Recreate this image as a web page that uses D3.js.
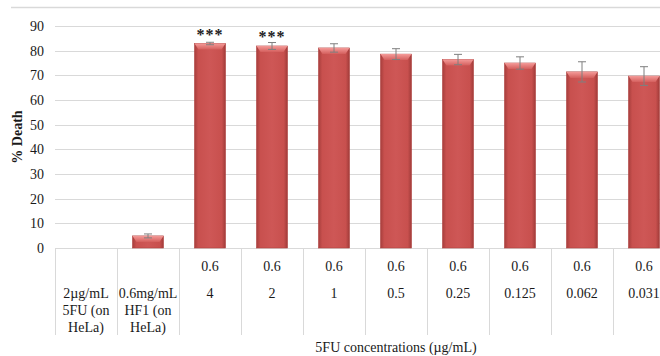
<!DOCTYPE html>
<html>
<head>
<meta charset="utf-8">
<script src="https://cdn.jsdelivr.net/npm/d3@7"></script>
<style>
  html, body { margin: 0; padding: 0; background: #fff; }
  svg { display: block; }
  svg text { font-family: "Liberation Serif", "Times New Roman", Times, "DejaVu Serif", serif !important; }
</style>
</head>
<body>
<svg id="chart" width="660" height="356"></svg>
<script>
// ---- data ----
const categories = ["5FU", "HF1", "4", "2", "1", "0.5", "0.25", "0.125", "0.062", "0.031"];
const row1Labels = ["", "", "0.6", "0.6", "0.6", "0.6", "0.6", "0.6", "0.6", "0.6"];
const row2Labels = [["2µg/mL", "5FU (on", "HeLa)"], ["0.6mg/mL", "HF1 (on", "HeLa)"], ["4"], ["2"], ["1"], ["0.5"], ["0.25"], ["0.125"], ["0.062"], ["0.031"]];
const values = [0, 4.9, 82.9, 81.9, 81.1, 78.6, 76.4, 75.0, 71.4, 69.7];
const errors = [0, 0.8, 0.5, 1.4, 1.7, 2.2, 2.1, 2.5, 4.1, 3.8];
const significance = ["", "", "***", "***", "", "", "", "", "", ""];
const yTicks = [0, 10, 20, 30, 40, 50, 60, 70, 80, 90];

(function () {
// ---- layout ----
const svg = d3.select("#chart");
const pLeft = 55, pRight = 675, pTop = 26, pBottom = 248;
const x = d3.scaleBand().domain(categories).range([pLeft, pRight]).paddingInner(0.5).paddingOuter(0.25);
const xb = d3.scaleBand().domain(categories).range([pLeft, pRight]).padding(0);
const y = d3.scaleLinear().domain([0, 90]).range([pBottom, pTop]);

// gradients
const defs = svg.append("defs");
const g1 = defs.append("linearGradient").attr("id", "barGrad").attr("x1", 0).attr("x2", 1).attr("y1", 0).attr("y2", 0);
g1.append("stop").attr("offset", "0%").attr("stop-color", "#A63E3C");
g1.append("stop").attr("offset", "12%").attr("stop-color", "#C8504E");
g1.append("stop").attr("offset", "50%").attr("stop-color", "#CE5756");
g1.append("stop").attr("offset", "88%").attr("stop-color", "#C8504E");
g1.append("stop").attr("offset", "100%").attr("stop-color", "#A03B39");
const g2 = defs.append("linearGradient").attr("id", "topGrad").attr("x1", 0).attr("x2", 0).attr("y1", 0).attr("y2", 1);
g2.append("stop").attr("offset", "0%").attr("stop-color", "#F49A98");
g2.append("stop").attr("offset", "100%").attr("stop-color", "#D45F5D");

// top border line
svg.append("line").attr("x1", 11).attr("x2", 660).attr("y1", 7.5).attr("y2", 7.5)
  .attr("stroke", "#D9D9D9").attr("stroke-width", 1.5);

// gridlines
svg.append("g").selectAll("line").data(yTicks.filter(d => d > 0)).join("line")
  .attr("x1", pLeft).attr("x2", 660)
  .attr("y1", d => Math.round(y(d)) + 0.5).attr("y2", d => Math.round(y(d)) + 0.5)
  .attr("stroke", "#D9D9D9").attr("stroke-width", 1);

// y axis labels
const yAxis = d3.axisLeft(y).tickValues(yTicks).tickSize(0).tickPadding(11);
const ya = svg.append("g").attr("transform", `translate(${pLeft},0)`).call(yAxis);
ya.select(".domain").remove();
ya.selectAll("text").attr("font-size", 14).attr("fill", "#1a1a1a");

// axis line & table lines
svg.append("line").attr("x1", pLeft).attr("x2", 660).attr("y1", pBottom + 0.5).attr("y2", pBottom + 0.5)
  .attr("stroke", "#D9D9D9");
svg.append("g").selectAll("line").data(categories).join("line")
  .attr("x1", d => Math.round(xb(d)) + 0.5).attr("x2", d => Math.round(xb(d)) + 0.5)
  .attr("y1", pBottom).attr("y2", 335)
  .attr("stroke", "#D9D9D9");

// bars
const bars = svg.append("g");
categories.forEach((c, i) => {
  const v = values[i];
  if (v <= 0) return;
  const bx = x(c), bw = x.bandwidth(), by = y(v), bh = y(0) - y(v);
  bars.append("rect").attr("x", bx).attr("y", by).attr("width", bw).attr("height", bh)
    .attr("fill", "url(#barGrad)").attr("stroke", "#B0403E").attr("stroke-width", 0.6);
  const th = Math.min(6, bh / 2);
  bars.append("path")
    .attr("d", `M${bx},${by} L${bx + bw},${by} L${bx + bw - 4},${by + th} L${bx + 4},${by + th} Z`)
    .attr("fill", "url(#topGrad)");
});

// error bars
const eb = svg.append("g").attr("stroke", "#7F7F7F").attr("stroke-width", 1);
categories.forEach((c, i) => {
  if (values[i] <= 0) return;
  const cx = x(c) + x.bandwidth() / 2;
  const y1 = y(values[i] + errors[i]), y2 = y(values[i] - errors[i]);
  eb.append("line").attr("x1", cx).attr("x2", cx).attr("y1", y1).attr("y2", y2);
  eb.append("line").attr("x1", cx - 4).attr("x2", cx + 4).attr("y1", y1).attr("y2", y1);
  eb.append("line").attr("x1", cx - 4).attr("x2", cx + 4).attr("y1", y2).attr("y2", y2);
});

// significance
svg.append("g").selectAll("text").data(categories).join("text")
  .attr("x", d => x(d) + x.bandwidth() / 2)
  .attr("y", (d, i) => y(values[i]) - 4)
  .attr("text-anchor", "middle").attr("font-size", 16).attr("font-weight", "bold").attr("fill", "#222")
  .attr("letter-spacing", 1)
  .text((d, i) => significance[i]);

// table labels
const lab = svg.append("g").attr("font-size", 14).attr("fill", "#1a1a1a").attr("text-anchor", "middle");
categories.forEach((c, i) => {
  const cx = xb(c) + xb.bandwidth() / 2;
  if (row1Labels[i]) lab.append("text").attr("x", cx).attr("y", 271).text(row1Labels[i]);
  row2Labels[i].forEach((t, k) => {
    lab.append("text").attr("x", cx).attr("y", 298 + k * 17).text(t);
  });
});

// axis titles
svg.append("text").attr("x", 396).attr("y", 352).attr("text-anchor", "middle")
  .attr("font-size", 14).attr("fill", "#1a1a1a").text("5FU concentrations (µg/mL)");
svg.append("text").attr("transform", "translate(22,137) rotate(-90)").attr("text-anchor", "middle")
  .attr("font-size", 14).attr("font-weight", "bold").attr("fill", "#1a1a1a").text("% Death");
})();
</script>
</body>
</html>
